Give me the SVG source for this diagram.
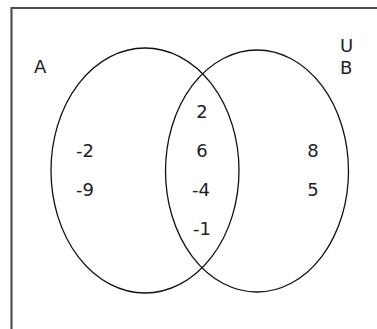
<svg xmlns="http://www.w3.org/2000/svg" width="377" height="329" viewBox="0 0 377 329">
<style>
.frame{fill:none;stroke:#505050;stroke-width:2.2}
.set{fill:none;stroke:#111;stroke-width:1.3}
text{font-family:"DejaVu Sans",sans-serif;font-size:18px;fill:#222}
.m{text-anchor:middle}
</style>
<rect width="377" height="329" fill="#fff"/>
<g id="frame"><path class="frame" d="M11.5,329 V8 H377"/></g>
<g id="setA"><ellipse class="set" cx="145" cy="170.5" rx="94" ry="122.5"/><text x="34" y="73">A</text></g>
<g id="setB"><ellipse class="set" cx="257" cy="171" rx="91.5" ry="121"/><text x="340" y="74">B</text></g>
<g id="universe"><text x="340" y="52">U</text></g>
<g id="onlyA"><text x="76" y="157">-2</text><text x="76" y="196">-9</text></g>
<g id="both"><text class="m" x="202" y="118">2</text><text class="m" x="202" y="157">6</text><text class="m" x="201" y="196">-4</text><text class="m" x="202" y="235">-1</text></g>
<g id="onlyB"><text class="m" x="313" y="157">8</text><text class="m" x="313" y="196">5</text></g>
<g id="connectors"></g>
</svg>
